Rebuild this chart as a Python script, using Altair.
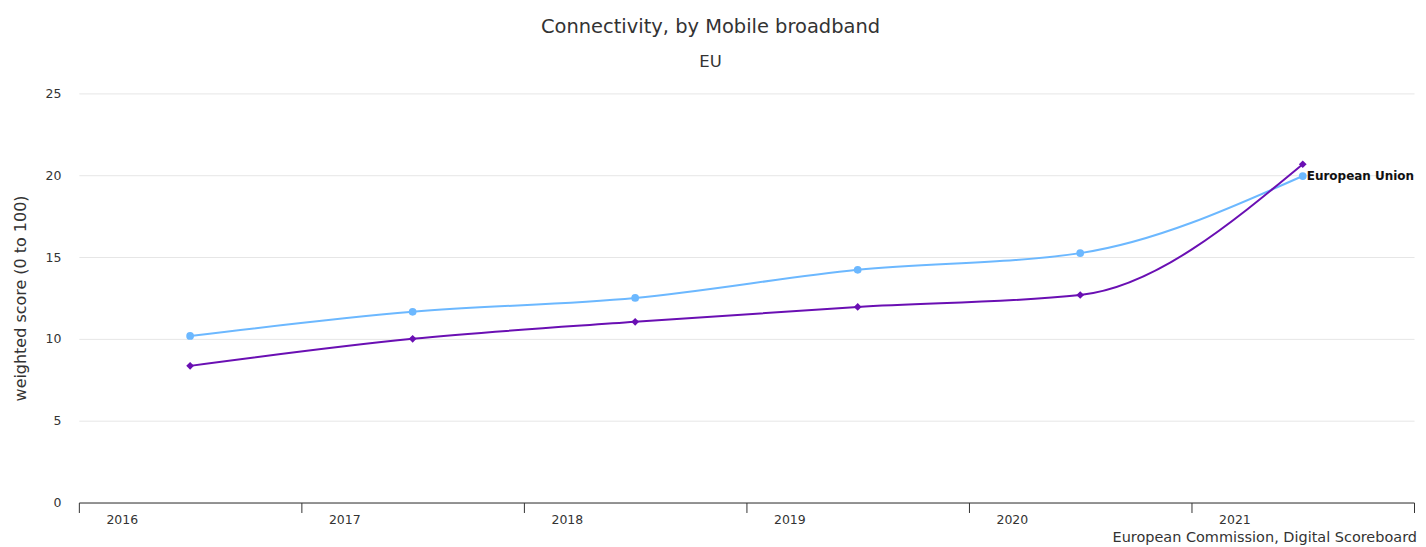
import json
import altair as alt
import pandas as pd

years = ["2016", "2017", "2018", "2019", "2020", "2021"]
eu_values = [10.18, 11.65, 12.50, 14.22, 15.24, 19.95]
mobile_values = [8.35, 10.00, 11.04, 11.95, 12.68, 20.67]
series_names = ["European Union", "Mobile broadband score"]
series_colors = ["#6cb8ff", "#6a0fb3"]
series_shapes = ["circle", "diamond"]

rows = []
for name, vals in zip(series_names, [eu_values, mobile_values]):
    for i, (y, v) in enumerate(zip(years, vals)):
        rows.append({"year": y, "pos": i + 0.5, "value": v, "series": name})
df = pd.DataFrame(rows)

W, H = 1338, 410
FONT = "DejaVu Sans"

label_expr = "datum.value < %d ? %s[datum.value] : ''" % (len(years), json.dumps(years).replace('"', "'"))

x = alt.X("pos:Q", scale=alt.Scale(domain=[0, len(years)], nice=False, zero=False),
          axis=alt.Axis(values=list(range(len(years) + 1)), labelExpr=label_expr, title=None,
                        grid=False, tickSize=10, tickColor="#333333", domainColor="#333333",
                        labelColor="#333333", labelFontSize=12.5, labelFont=FONT,
                        labelAlign="center", labelOffset=43, labelPadding=1, labelFlush=False))
y = alt.Y("value:Q", scale=alt.Scale(domain=[0, 25], nice=False),
          axis=alt.Axis(values=[0, 5, 10, 15, 20, 25], title="weighted score (0 to 100)",
                        titleFontSize=16, titleFontWeight="normal", titleColor="#333333",
                        titleFont=FONT, titlePadding=17,
                        labelColor="#333333", labelFontSize=12.5, labelFont=FONT,
                        labelPadding=18, ticks=False, domain=False,
                        gridColor="#e6e6e6"))

color = alt.Color("series:N", scale=alt.Scale(domain=series_names, range=series_colors), legend=None)
shape = alt.Shape("series:N", scale=alt.Scale(domain=series_names, range=series_shapes), legend=None)

layers = []
for name in series_names:
    sub = df[df.series == name]
    base = alt.Chart(sub)
    layers.append(base.mark_line(interpolate="monotone", strokeWidth=2).encode(x=x, y=y, color=color))
    layers.append(base.mark_point(filled=True, opacity=1, size=60).encode(x=x, y=y, color=color, shape=shape))

last = df[(df.series == series_names[0]) & (df.year == years[-1])]
label = alt.Chart(last).mark_text(align="left", baseline="middle", dx=4, fontSize=12,
                                  font=FONT, color="#111111", fontWeight="bold").encode(
    x=x, y=y, text="series:N")

credits = alt.Chart(pd.DataFrame({"t": ["European Commission, Digital Scoreboard"]})).mark_text(
    align="right", baseline="middle", fontSize=14.5, font=FONT, color="#333333").encode(
    x=alt.value(W + 3), y=alt.value(H + 36), text="t:N")

chart = alt.layer(*layers, label, credits).properties(
    width=W, height=H,
    title=alt.TitleParams(text="Connectivity, by Mobile broadband", subtitle="EU",
                          anchor="middle", dx=-36, fontSize=19.5, fontWeight="normal",
                          color="#333333", font=FONT, subtitleFont=FONT, subtitleFontSize=16.5,
                          subtitleColor="#333333", subtitlePadding=17, offset=16),
    autosize=alt.AutoSizeParams(type="none"),
    padding={"left": 71, "top": 85, "right": 4, "bottom": 42},
).configure_view(stroke=None)

chart.save("out.html", embed_options={"renderer": "svg", "actions": False})
